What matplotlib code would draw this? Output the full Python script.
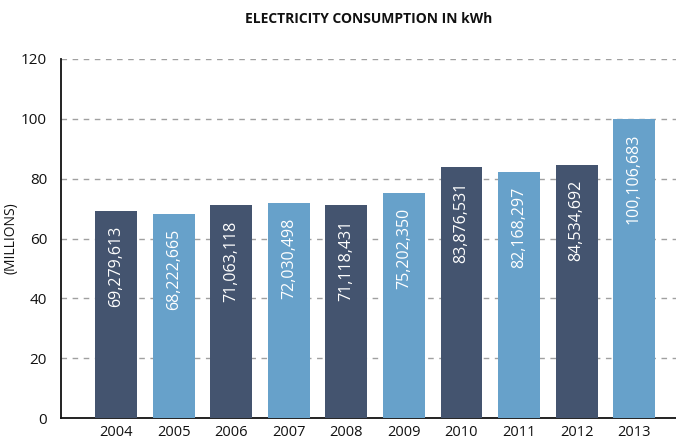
import matplotlib
matplotlib.use("Agg")
import matplotlib.pyplot as plt
import numpy as np

plt.rcParams['font.family'] = ['Open Sans', 'DejaVu Sans']

years = ['2004', '2005', '2006', '2007', '2008', '2009', '2010', '2011', '2012', '2013']
values_kwh = [69279613, 68222665, 71063118, 72030498, 71118431, 75202350,
              83876531, 82168297, 84534692, 100106683]
bar_colors = ['#44546F', '#67A1CA'] * 5
yticks = [0, 20, 40, 60, 80, 100, 120]

values_m = np.array(values_kwh) / 1e6
x = np.arange(len(years))

fig = plt.figure(figsize=(6.76, 4.42), dpi=100)
ax = fig.add_axes([61 / 676, 1 - 418 / 442, 1 - 61 / 676, (418 - 59) / 442])

ax.bar(x, values_m, width=0.73, color=bar_colors, zorder=3)

for xi, v, raw in zip(x, values_m, values_kwh):
    ax.text(xi, v - 5, f"{raw:,}", rotation=90, ha='center', va='top',
            color='white', fontsize=11.5, zorder=4)

ax.set_ylim(0, 120)
ax.set_xlim(-0.964, 9.73)
ax.set_yticks(yticks)
ax.set_yticklabels([str(t) for t in yticks], fontsize=11)
ax.set_xticks(x)
ax.set_xticklabels(years, fontsize=10.5)
ax.tick_params(axis='both', length=0, colors='#111111')
ax.tick_params(axis='y', pad=10)
ax.tick_params(axis='x', pad=5)

for t in yticks[1:]:
    ax.axhline(t, color='#A0A0A0', linewidth=1.0, linestyle=(0, (4, 4)), zorder=1)

for s in ['top', 'right']:
    ax.spines[s].set_visible(False)
ax.spines['left'].set_linewidth(1.3)
ax.spines['bottom'].set_linewidth(1.3)
ax.spines['left'].set_color('#111111')
ax.spines['bottom'].set_color('#111111')

ax.set_ylabel('(MILLIONS)', fontsize=10, color='#111111')
ax.yaxis.set_label_coords((18 - 61) / 615, 0.5)
ax.set_title('ELECTRICITY CONSUMPTION IN kWh', fontsize=10, fontweight='bold',
             pad=26, color='#111111')

fig.savefig('out.png', dpi=100)
